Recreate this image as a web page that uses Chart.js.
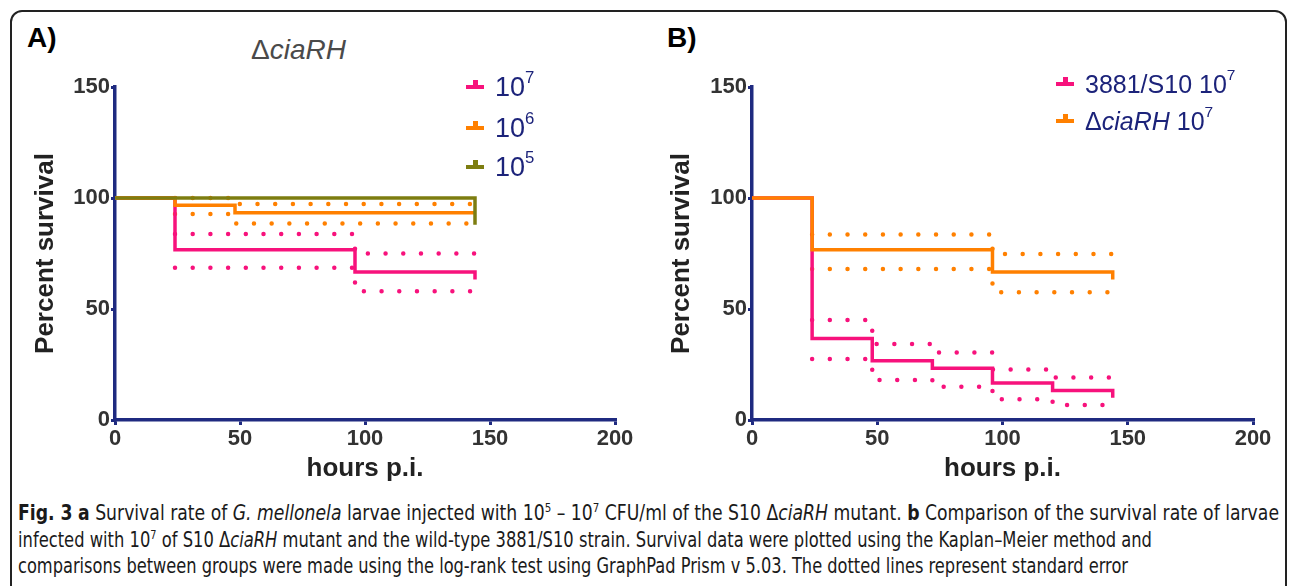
<!DOCTYPE html>
<html>
<head>
<meta charset="utf-8">
<script src="https://cdn.jsdelivr.net/npm/chart.js@4.4.1/dist/chart.umd.min.js"></script>
<style>
  html, body { margin: 0; padding: 0; background: #fff; }
  body { width: 1290px; height: 586px; position: relative; overflow: hidden; font-family: "Liberation Sans", Arial, sans-serif; }
  .frame { position: absolute; left: 10px; top: 10px; width: 1277px; height: 620px; border: 2px solid #222; border-radius: 12px; box-sizing: border-box; }
  canvas { position: absolute; }
  .panel { position: absolute; font-weight: bold; font-size: 28px; line-height: 28px; color: #000; }
  .title { position: absolute; font-size: 28px; line-height: 28px; color: #4a4a4a; }
  .leg { position: absolute; display: flex; align-items: center; height: 30px; color: #1c237a; white-space: nowrap; }
  .sym { display: inline-block; position: relative; width: 18px; height: 4px; margin-right: 11px; }
  .sym::after { content: ''; position: absolute; left: 6.5px; top: -5px; width: 5px; height: 5px; background: inherit; }
  sup { font-size: 0.62em; vertical-align: baseline; position: relative; top: -0.55em; }
  .cap { position: absolute; left: 18px; white-space: nowrap; font-family: "Liberation Sans Narrow", "DejaVu Sans Condensed", "Liberation Sans", sans-serif; font-size: 21px; line-height: 22px; color: #1a1a1a; transform-origin: 0 50%; }
  .cap sup { font-size: 0.6em; top: -0.6em; }
</style>
</head>
<body>
<div class="frame"></div>

<div class="panel" style="left:27px; top:24px;">A)</div>
<div class="panel" style="left:667px; top:24px;">B)</div>
<div class="title" style="left:251px; top:36px;">Δ<i>ciaRH</i></div>

<canvas id="chartA" width="630" height="418" style="left:26px; top:70px;"></canvas>
<canvas id="chartB" width="620" height="418" style="left:662px; top:70px;"></canvas>

<div class="leg" style="left:466px; top:72px; font-size:27px;"><span class="sym" style="background:#f7127c"></span>10<sup>7</sup></div>
<div class="leg" style="left:466px; top:113px; font-size:27px;"><span class="sym" style="background:#ff8000"></span>10<sup>6</sup></div>
<div class="leg" style="left:466px; top:152px; font-size:27px;"><span class="sym" style="background:#7d7d10"></span>10<sup>5</sup></div>

<div class="leg" style="left:1056px; top:69px; font-size:25px;"><span class="sym" style="background:#f7127c"></span>3881/S10 10<sup>7</sup></div>
<div class="leg" style="left:1056px; top:106px; font-size:25px;"><span class="sym" style="background:#ff8000"></span>Δ<i>ciaRH</i>&nbsp;10<sup>7</sup></div>

<div class="cap" data-w="1261" style="top:502px;"><b>Fig. 3</b> <b>a</b> Survival rate of <i>G. mellonela</i> larvae injected with 10<sup>5</sup> – 10<sup>7</sup> CFU/ml of the S10 Δ<i>ciaRH</i> mutant. <b>b</b> Comparison of the survival rate of larvae</div>
<div class="cap" data-w="1134" style="top:529px;">infected with 10<sup>7</sup> of S10 Δ<i>ciaRH</i> mutant and the wild-type 3881/S10 strain. Survival data were plotted using the Kaplan–Meier method and</div>
<div class="cap" data-w="1110" style="top:555px;">comparisons between groups were made using the log-rank test using GraphPad Prism v 5.03. The dotted lines represent standard error</div>

<script>
// panel A: ΔciaRH mutant at three doses
const hoursA7 = [0, 24, 96, 144];
const survA7 = [100, 76.7, 66.7, 63.3];
const ciHoursA7 = [24, 96, 144];
const upperA7 = [83.8, 75, 75];
const lowerA7 = [68.6, 58, 58];

const hoursA6 = [0, 24, 48, 144];
const survA6 = [100, 96.7, 93.3, 93.3];
const ciHoursA6 = [24, 48, 144];
const upperA6 = [100, 97.3, 97.3];
const lowerA6 = [92.8, 88.5, 88.5];

const hoursA5 = [0, 144];
const survA5 = [100, 88];

// panel B: wild type vs mutant, 10^7
const hoursWT = [0, 24, 48, 72, 96, 120, 144];
const survWT = [100, 36.7, 26.7, 23.3, 16.7, 13.3, 10];
const ciHoursWT = [24, 48, 72, 96, 120, 144];
const upperWT = [45, 34.2, 30.4, 22.8, 19.2, 19.2];
const lowerWT = [27.5, 18, 15, 9.3, 6.8, 6.8];

const hoursMut = [0, 24, 96, 144];
const survMut = [100, 76.7, 66.7, 63.3];
const ciHoursMut = [24, 96, 144];
const upperMut = [83.6, 74.8, 74.8];
const lowerMut = [68, 57.5, 57.5];

const xTicks = [0, 50, 100, 150, 200];
const yTicks = [0, 50, 100, 150];

const PINK = '#f7127c', ORANGE = '#ff8000', OLIVE = '#7d7d10', NAVY = '#1f2a80';

function pts(xs, ys) {
    return xs.map((x, i) => ({ x: x, y: ys[i] }));
}

// horizontal first, then the drop
function curve(xs, ys, color) {
    return { data: pts(xs, ys), borderColor: color, borderWidth: 3.5, stepped: 'before', pointRadius: 0, fill: false };
}

function ci(xs, ys, color) {
    return { data: pts(xs, ys), borderColor: color, borderWidth: 4.5, borderDash: [0, 17.7], borderCapStyle: 'round', stepped: 'before', pointRadius: 0, fill: false };
}

function options(yWidth, padRight) {
    const tickFont = { family: 'Liberation Sans', size: 22, weight: 'bold' };
    const titleFont = { family: 'Liberation Sans', size: 26, weight: 'bold' };
    return {
        responsive: false,
        animation: false,
        devicePixelRatio: 1,
        layout: { padding: { top: 17, right: padRight, left: 0, bottom: 0 } },
        plugins: { legend: { display: false }, tooltip: { enabled: false } },
        scales: {
            x: {
                type: 'linear', min: 0, max: 200,
                afterBuildTicks: s => { s.ticks = xTicks.map(v => ({ value: v })); },
                afterFit: s => { s.height = 68; },
                border: { color: NAVY, width: 3.5 },
                grid: { drawOnChartArea: false, color: NAVY, lineWidth: 3, tickLength: 5 },
                ticks: { font: tickFont, color: '#333', padding: 1, maxRotation: 0, autoSkip: false },
                title: { display: true, text: 'hours p.i.', font: titleFont, color: '#222', padding: 4 }
            },
            y: {
                min: 0, max: 150,
                afterBuildTicks: s => { s.ticks = yTicks.map(v => ({ value: v })); },
                afterFit: s => { s.width = yWidth; },
                border: { color: NAVY, width: 3.5 },
                grid: { drawOnChartArea: false, color: NAVY, lineWidth: 3, tickLength: 4 },
                ticks: { font: tickFont, color: '#333', padding: 1 },
                title: { display: true, text: 'Percent survival', font: titleFont, color: '#222', padding: 4 }
            }
        }
    };
}

new Chart(document.getElementById('chartA'), {
    type: 'line',
    data: {
        datasets: [
            curve(hoursA5, survA5, OLIVE),
            curve(hoursA6, survA6, ORANGE),
            curve(hoursA7, survA7, PINK),
            ci(ciHoursA6, upperA6, ORANGE),
            ci(ciHoursA6, lowerA6, ORANGE),
            ci(ciHoursA7, upperA7, PINK),
            ci(ciHoursA7, lowerA7, PINK)
        ]
    },
    options: options(89, 41)
});

new Chart(document.getElementById('chartB'), {
    type: 'line',
    data: {
        datasets: [
            curve(hoursMut, survMut, ORANGE),
            curve(hoursWT, survWT, PINK),
            ci(ciHoursMut, upperMut, ORANGE),
            ci(ciHoursMut, lowerMut, ORANGE),
            ci(ciHoursWT, upperWT, PINK),
            ci(ciHoursWT, lowerWT, PINK)
        ]
    },
    options: options(90, 29)
});

// stretch caption lines to the widths of the original
document.querySelectorAll('.cap').forEach(el => {
    const w = el.getBoundingClientRect().width;
    el.style.transform = 'scaleX(' + (parseFloat(el.dataset.w) / w) + ')';
});
</script>
</body>
</html>
